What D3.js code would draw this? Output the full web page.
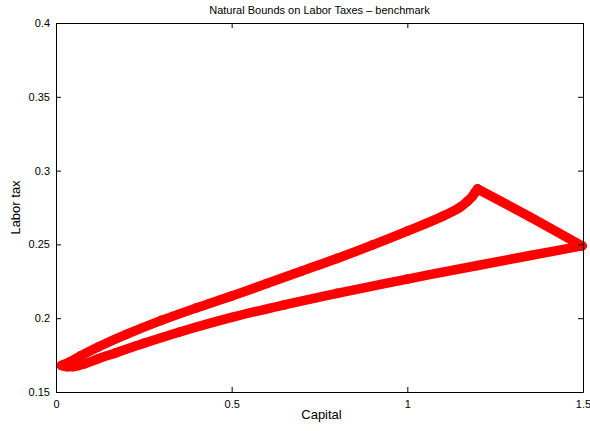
<!DOCTYPE html>
<html>
<head>
<meta charset="utf-8">
<script src="https://cdn.jsdelivr.net/npm/d3@7/dist/d3.min.js"></script>
<style>
  html, body { margin: 0; padding: 0; background: #fff; }
  svg { display: block; }
  text { font-family: "Liberation Sans", Arial, Helvetica, sans-serif; fill: #000; }
</style>
</head>
<body>
<svg id="chart" width="590" height="431"></svg>
<script>
// Trajectory of the natural bound: lower branch left to right, then back along the upper branch
const capital = [
  0.016, 0.03, 0.05, 0.08, 0.12, 0.17, 0.25, 0.35, 0.5, 0.65, 0.8, 1.0, 1.2, 1.35, 1.497,
  1.35, 1.2,
  1.192, 1.185, 1.17, 1.15, 1.1, 1.0, 0.9, 0.8, 0.7, 0.6, 0.5, 0.4, 0.3, 0.2, 0.12, 0.07, 0.04, 0.022, 0.016
];
const laborTax = [
  0.1680, 0.1672, 0.1672, 0.1690, 0.1725, 0.1765, 0.1830, 0.1905, 0.2005, 0.2090, 0.2168, 0.2265, 0.2357, 0.2425, 0.2490,
  0.2685, 0.2875,
  0.2850, 0.2825, 0.2790, 0.2752, 0.2690, 0.2590, 0.2495, 0.2405, 0.2320, 0.2235, 0.2150, 0.2070, 0.1985, 0.1890, 0.1805, 0.1745, 0.1705, 0.1686, 0.1680
];
// Index ranges of the three smooth pieces (corners at the right tip and at the cusp)
const branchBreaks = [[0, 14], [14, 16], [16, 35]];

const xTicks = [0, 0.5, 1, 1.5];
const xTickLabels = ["0", "0.5", "1", "1.5"];
const yTicks = [0.15, 0.2, 0.25, 0.3, 0.35, 0.4];
const yTickLabels = ["0.15", "0.2", "0.25", "0.3", "0.35", "0.4"];

const titleText = "Natural Bounds on Labor Taxes \u2013 benchmark";
const xLabelText = "Capital";
const yLabelText = "Labor tax";

const svg = d3.select("#chart");
const W = 590, H = 431;
const plot = { left: 56, right: 583, top: 23, bottom: 392 };

svg.append("rect").attr("width", W).attr("height", H).attr("fill", "#fff");

const x = d3.scaleLinear().domain([0, 1.5]).range([plot.left, plot.right]);
const y = d3.scaleLinear().domain([0.15, 0.4]).range([plot.bottom, plot.top]);

const points = capital.map((c, i) => [c, laborTax[i]]);

// Thick marker band, one smooth piece per branch
const line = d3.line()
  .x(d => x(d[0]))
  .y(d => y(d[1]))
  .curve(d3.curveCatmullRom.alpha(0.5));

svg.append("g")
  .selectAll("path")
  .data(branchBreaks.map(([a, b]) => points.slice(a, b + 1)))
  .join("path")
  .attr("d", line)
  .attr("fill", "none")
  .attr("stroke", "#ff0000")
  .attr("stroke-width", 9.5)
  .attr("stroke-linecap", "round")
  .attr("stroke-linejoin", "round");

// Circle markers at each sample
svg.append("g")
  .selectAll("circle")
  .data(points)
  .join("circle")
  .attr("cx", d => x(d[0]))
  .attr("cy", d => y(d[1]))
  .attr("r", 4.2)
  .attr("fill", "none")
  .attr("stroke", "#ff0000")
  .attr("stroke-width", 1.2);

// Axes: ticks pointing inward on all four sides
function styleAxis(g) {
  g.selectAll("path.domain").attr("stroke", "#000").attr("stroke-width", 1);
  g.selectAll(".tick line").attr("stroke", "#000").attr("stroke-width", 1);
  g.selectAll(".tick text").attr("font-size", 11).attr("fill", "#000")
    .attr("font-family", "'Liberation Sans', Arial, Helvetica, sans-serif");
}

svg.append("g")
  .attr("transform", `translate(0,${plot.bottom})`)
  .call(d3.axisBottom(x).tickValues(xTicks).tickFormat((d, i) => xTickLabels[i])
    .tickSizeInner(-5).tickSizeOuter(0).tickPadding(8))
  .call(styleAxis);

svg.append("g")
  .attr("transform", `translate(0,${plot.top})`)
  .call(d3.axisTop(x).tickValues(xTicks).tickFormat("")
    .tickSizeInner(-5).tickSizeOuter(0))
  .call(styleAxis);

svg.append("g")
  .attr("transform", `translate(${plot.left},0)`)
  .call(d3.axisLeft(y).tickValues(yTicks).tickFormat((d, i) => yTickLabels[i])
    .tickSizeInner(-5).tickSizeOuter(0).tickPadding(6))
  .call(styleAxis);

svg.append("g")
  .attr("transform", `translate(${plot.right},0)`)
  .call(d3.axisRight(y).tickValues(yTicks).tickFormat("")
    .tickSizeInner(-5).tickSizeOuter(0))
  .call(styleAxis);

// Title and axis labels
svg.append("text")
  .attr("x", (plot.left + plot.right) / 2)
  .attr("y", 14)
  .attr("text-anchor", "middle")
  .attr("font-size", 11)
  .text(titleText);

svg.append("text")
  .attr("x", (plot.left + plot.right) / 2 + 2)
  .attr("y", 419)
  .attr("text-anchor", "middle")
  .attr("font-size", 13)
  .text(xLabelText);

svg.append("text")
  .attr("transform", `translate(20,${(plot.top + plot.bottom) / 2}) rotate(-90)`)
  .attr("text-anchor", "middle")
  .attr("font-size", 13)
  .text(yLabelText);
</script>
</body>
</html>
